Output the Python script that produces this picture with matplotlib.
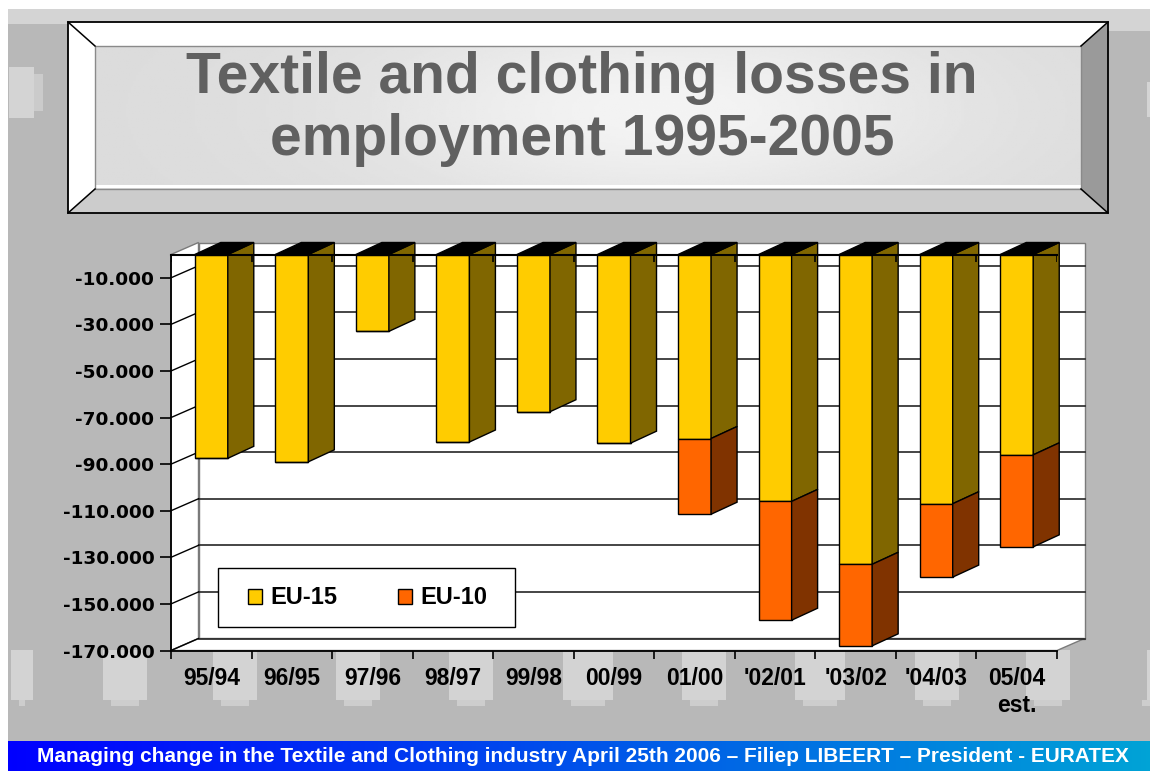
import numpy as np
import matplotlib
matplotlib.use('Agg')
import matplotlib.pyplot as plt
from matplotlib.patches import Polygon, Rectangle, Patch

plt.rcParams['font.family'] = ['Liberation Sans', 'DejaVu Sans']

# job losses per year pair (EU-15 on top, EU-10 stacked below)
categories = ['95/94', '96/95', '97/96', '98/97', '99/98', '00/99', '01/00',
              "'02/01", "'03/02", "'04/03", '05/04\nest.']
eu15 = [-87500, -89000, -33000, -80500, -67500, -81000, -79000,
        -106000, -133000, -107000, -86000]
eu10 = [0, 0, 0, 0, 0, 0, -32500, -51000, -35000, -31500, -39500]
yticks = list(range(-10000, -170001, -20000))
ymin = -170000

title_lines = ['Textile and clothing losses in', 'employment 1995-2005']
footer = ('Managing change in the Textile and Clothing industry April 25th 2006 '
          '\u2013 Filiep LIBEERT \u2013 President - EURATEX')

yellow, yellow_side = '#ffcc00', '#806600'
orange, orange_side = '#ff6600', '#803300'

W, H = 1150, 771
fig = plt.figure(figsize=(W / 100, H / 100), dpi=100)
fig.patch.set_facecolor('#b8b8b8')

# ---- slide background, title frame, footer banner (pixel coords) ----
bg = fig.add_axes([0, 0, 1, 1], zorder=0)
bg.set_xlim(0, W)
bg.set_ylim(H, 0)
bg.axis('off')


def box(x0, y0, x1, y1, color, z=1):
    bg.add_patch(Rectangle((x0, y0), x1 - x0, y1 - y0, facecolor=color,
                           edgecolor='none', zorder=z))


box(0, 0, W, 9, 'white')
box(0, 0, 8, H, 'white')
box(8, 9, W, 24, '#d4d4d4')
box(1108, 24, W, 31, '#d4d4d4')
box(9, 67, 34, 118, '#d4d4d4')
box(34, 74, 43, 111, '#cbcbcb')
box(1147, 82, W, 117, '#d4d4d4')
for bx0, bx1 in [(11, 33), (103, 147), (213, 257), (336, 380), (449, 493),
                 (563, 613), (682, 726), (795, 845), (915, 959), (1026, 1070),
                 (1147, 1150)]:
    box(bx0, 650, bx1, 700, '#d3d3d3')
    box(bx0 + 8, 700, bx1 - 8, 706, '#cdcdcd')

# footer banner with blue gradient
t = np.linspace(0, 1, 256)
grad = np.zeros((1, 256, 3))
grad[0, :, 1] = 0.64 * t
grad[0, :, 2] = 1.0 - 0.16 * t
bg.imshow(grad, extent=(8, W, H, 741), aspect='auto', zorder=2)

# bevelled title frame
bg.add_patch(Polygon([(68, 22), (1108, 22), (1081, 46), (95, 46)], fc='white', ec='none', zorder=2))
bg.add_patch(Polygon([(68, 22), (95, 46), (95, 189), (68, 213)], fc='white', ec='none', zorder=2))
bg.add_patch(Polygon([(1108, 22), (1108, 213), (1081, 189), (1081, 46)], fc='#9a9a9a', ec='none', zorder=2))
bg.add_patch(Polygon([(68, 213), (1108, 213), (1081, 189), (95, 189)], fc='#cccccc', ec='none', zorder=2))
xx, yy = np.meshgrid(np.linspace(0, 1, 400), np.linspace(0, 1, 80))
face = 0.86 + 0.095 * np.exp(-((xx - 0.58) / 0.3) ** 2 - ((yy - 0.45) / 0.7) ** 2)
bg.imshow(face, cmap='gray', vmin=0, vmax=1, extent=(95, 1081, 189, 46),
          aspect='auto', zorder=2)
box(95, 185, 1081, 188, 'white', z=3)
bg.add_patch(Rectangle((95, 46), 986, 143, fc='none', ec='#8a8a8a', lw=1, zorder=3))
bg.add_patch(Rectangle((68, 22), 1040, 191, fc='none', ec='black', lw=1.3, zorder=4))
for (ax0, ay0), (ax1, ay1) in [((68, 22), (95, 46)), ((1108, 22), (1081, 46)),
                               ((1108, 213), (1081, 189)), ((68, 213), (95, 189))]:
    bg.plot([ax0, ax1], [ay0, ay1], color='black', lw=1.1, zorder=4)

for line, base in zip(title_lines, [93, 155]):
    fig.text(582 / W, 1 - base / H, line, ha='center', va='baseline',
             fontsize=41, fontweight='bold', color='#606060', zorder=5)

fig.text(583 / W, 1 - 757 / H, footer, ha='center', va='center',
         fontsize=15, fontweight='bold', color='white', zorder=5)

# ---- pseudo 3-D column chart ----
n = len(categories)
ax = fig.add_axes([171 / W, (H - 650.5) / H, 886 / W, 396 / H], zorder=2)
ax.set_facecolor('none')
ax.set_xlim(0, n)
ax.set_ylim(ymin, 0)

cat_px = 886 / n
val_px = 396 / -ymin
wdx, wdy = 27.5 / cat_px, 12 / val_px
bdx, bdy = 26 / cat_px, 12 / val_px
wall_edge = '#7a7a7a'

ax.add_patch(Rectangle((wdx, ymin + wdy), n, -ymin, fc='white', ec=wall_edge,
                       lw=1, clip_on=False, zorder=1))
ax.add_patch(Polygon([(0, 0), (wdx, wdy), (wdx, ymin + wdy), (0, ymin)],
                     fc='white', ec=wall_edge, lw=1, clip_on=False, zorder=1))
ax.add_patch(Polygon([(0, ymin), (n, ymin), (n + wdx, ymin + wdy), (wdx, ymin + wdy)],
                     fc='white', ec=wall_edge, lw=1, clip_on=False, zorder=1))
for v in yticks:
    ax.plot([wdx, n + wdx], [v + wdy, v + wdy], color='#262626', lw=1.2,
            clip_on=False, zorder=2)
    ax.plot([0, wdx], [v, v + wdy], color='black', lw=1, clip_on=False, zorder=2)

x = np.arange(n) + 0.5
bw = 0.41
ax.bar(x, eu15, width=bw, color=yellow, edgecolor='black', lw=1, zorder=5)
ax.bar(x, eu10, bottom=eu15, width=bw, color=orange, edgecolor='black', lw=1, zorder=5)

for xi, a, b in zip(x, eu15, eu10):
    r = xi + bw / 2
    ax.add_patch(Polygon([(r, 0), (r + bdx, bdy), (r + bdx, a + bdy), (r, a)],
                         fc=yellow_side, ec='black', lw=1, clip_on=False, zorder=5))
    ax.add_patch(Polygon([(xi - bw / 2, 0), (r, 0), (r + bdx, bdy), (xi - bw / 2 + bdx, bdy)],
                         fc='black', ec='black', lw=1, clip_on=False, zorder=5))
    if b != 0:
        ax.add_patch(Polygon([(r, a), (r + bdx, a + bdy), (r + bdx, a + b + bdy), (r, a + b)],
                             fc=orange_side, ec='black', lw=1, clip_on=False, zorder=5))

# category axis line along value 0 with its little ticks
ax.plot([0, n], [0, 0], color='black', lw=1.5, clip_on=False, zorder=8)
ax.vlines(range(n + 1), -7 / val_px, 0, color='black', lw=1.2, zorder=8)

for s in ['top', 'right']:
    ax.spines[s].set_visible(False)
for s in ['left', 'bottom']:
    ax.spines[s].set_color('black')
    ax.spines[s].set_linewidth(1.3)

ax.set_yticks(yticks, labels=[f'{v:,.0f}'.replace(',', '.') for v in yticks],
              fontsize=13.3, fontweight='bold', family='DejaVu Sans')
ax.tick_params(axis='y', direction='out', length=8, width=1.2, pad=4)
ax.set_xticks(x, labels=categories, fontsize=16.5, fontweight='bold')
ax.set_xticks(range(n + 1), minor=True)
ax.tick_params(axis='x', which='major', length=0, pad=12)
ax.tick_params(axis='x', which='minor', direction='out', length=6, width=1.2)

# legend: plain box with the two swatches inside
ax.add_patch(Rectangle((218 / W, 1 - 627 / H), 297 / W, 59 / H, transform=fig.transFigure,
                       fc='white', ec='black', lw=1.0, clip_on=False, zorder=9))
handles = [Patch(facecolor=yellow, edgecolor='black', lw=1, label='EU-15'),
           Patch(facecolor=orange, edgecolor='black', lw=1, label='EU-10')]
leg = ax.legend(handles=handles, ncol=2, loc='center left',
                bbox_to_anchor=(248 / W, 1 - 598 / H), bbox_transform=fig.transFigure,
                borderaxespad=0, borderpad=0, frameon=False,
                prop={'weight': 'bold', 'size': 17}, handlelength=0.6,
                handleheight=0.58, handletextpad=0.35, columnspacing=2.55)
leg.set_zorder(10)

fig.savefig('out.png', dpi=100, facecolor=fig.get_facecolor())
